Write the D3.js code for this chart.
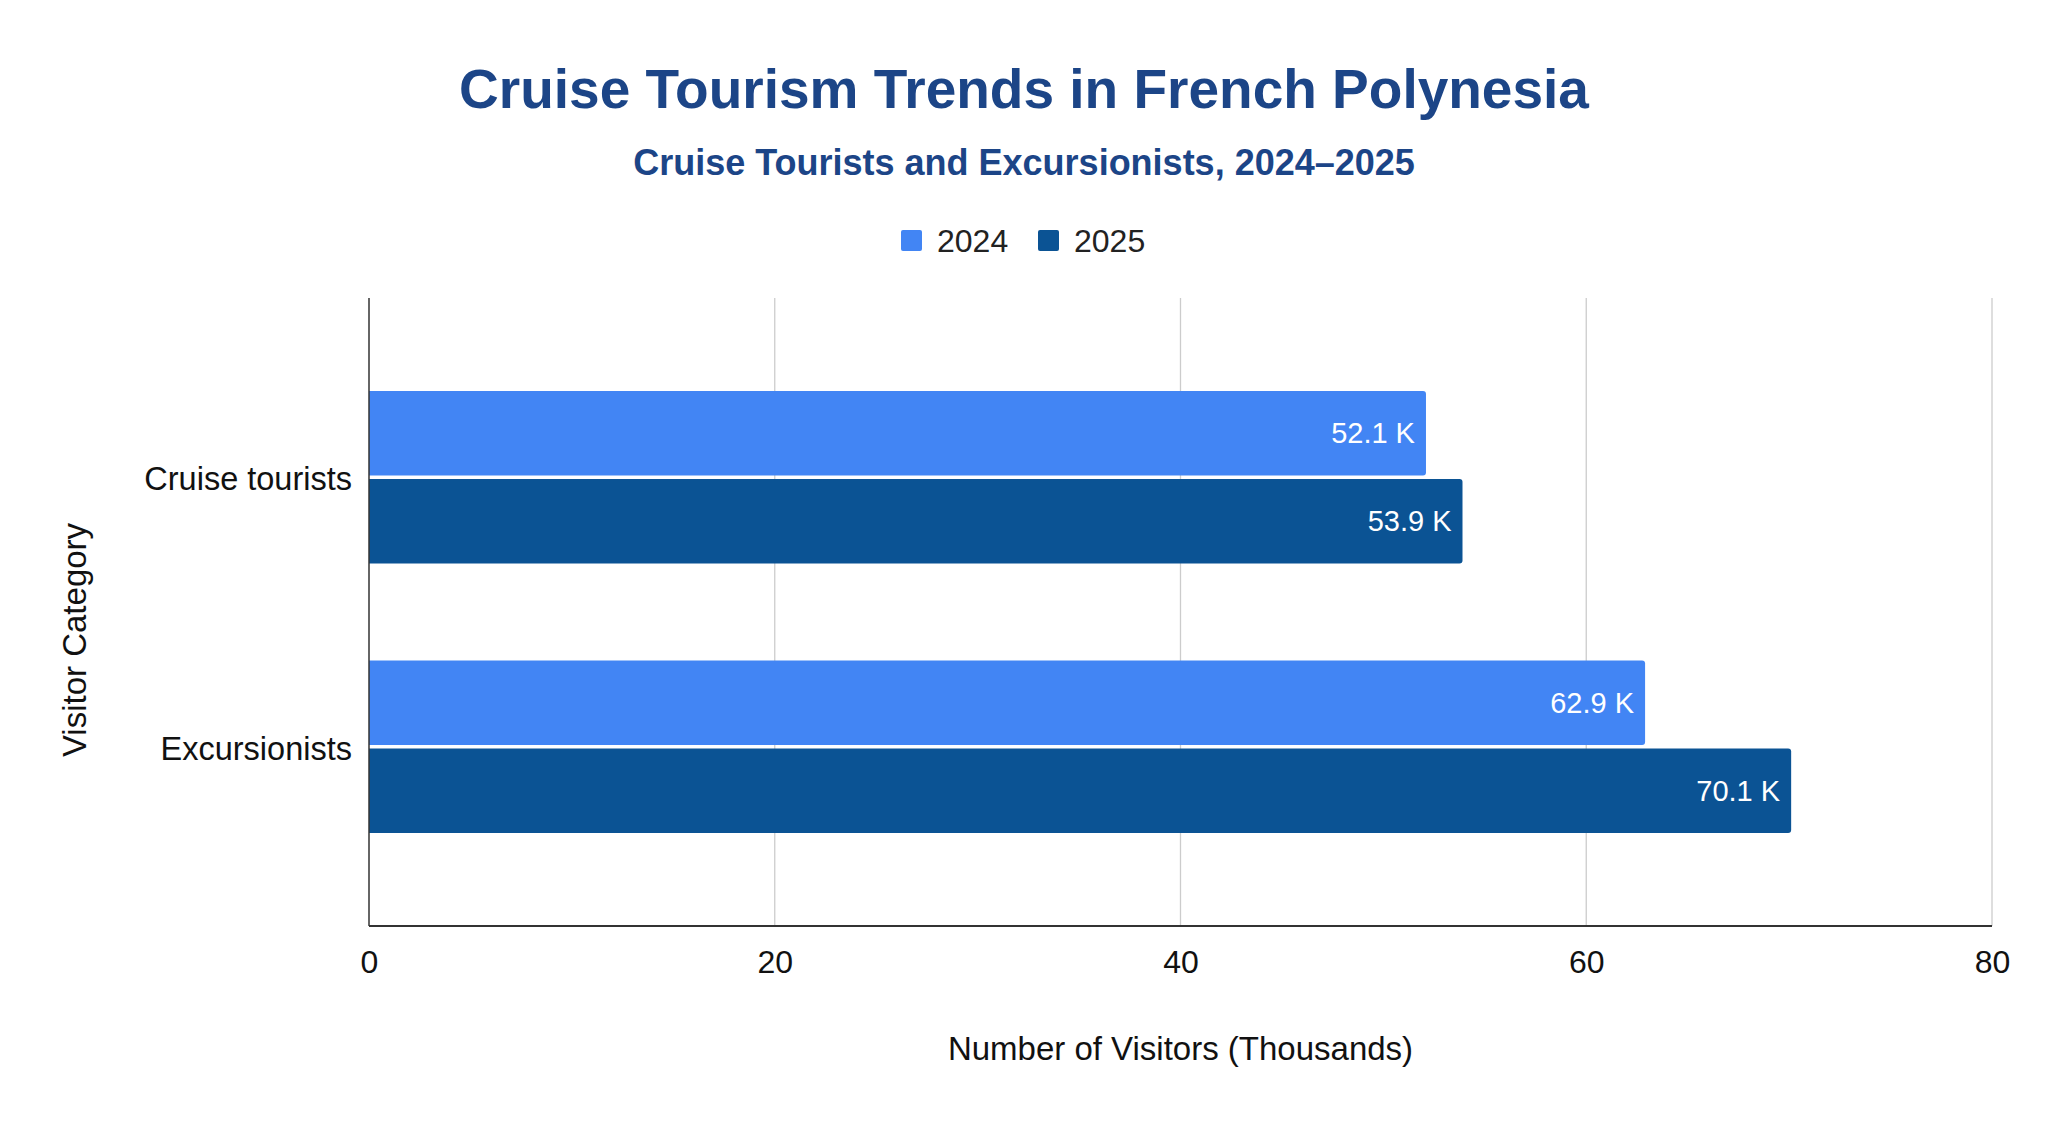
<!DOCTYPE html>
<html>
<head>
<meta charset="utf-8">
<script src="https://cdn.jsdelivr.net/npm/d3@7"></script>
<style>
  html, body { margin: 0; padding: 0; background: #fff; }
  svg { display: block; font-family: Arial, "Liberation Sans", sans-serif; }
</style>
</head>
<body>
<div id="chart"></div>
<script>
// Chart data
const categories = ["Cruise tourists", "Excursionists"];
const years = ["2024", "2025"];
const values2024 = [52.1, 62.9];
const values2025 = [53.9, 70.1];
const xTicks = [0, 20, 40, 60, 80];

const colors = {"2024": "#4285f4", "2025": "#0b5394"};

// Overall size and plot area
const W = 2048, H = 1124;
const margin = {top: 298, right: 56, bottom: 198, left: 369};
const width = W - margin.left - margin.right,
      height = H - margin.top - margin.bottom;

const svg = d3.select("#chart")
  .append("svg")
  .attr("width", W)
  .attr("height", H);

// Build rows for the grouped bars
const rows = categories.map(function (c, i) {
  return {category: c, values: [
    {year: "2024", value: values2024[i]},
    {year: "2025", value: values2025[i]}
  ]};
});

// Titles
svg.append("text")
  .attr("x", W / 2).attr("y", 108)
  .attr("text-anchor", "middle")
  .style("font-size", "55px").style("font-weight", "bold")
  .style("fill", "#1c4587")
  .text("Cruise Tourism Trends in French Polynesia");

svg.append("text")
  .attr("x", W / 2).attr("y", 175)
  .attr("text-anchor", "middle")
  .style("font-size", "36px").style("font-weight", "bold")
  .style("fill", "#1c4587")
  .text("Cruise Tourists and Excursionists, 2024\u20132025");

// Legend
const legendX = [901, 1038];
const legend = svg.selectAll(".legend").data(years)
  .enter().append("g")
  .attr("class", "legend")
  .attr("transform", function (d, i) { return "translate(" + legendX[i] + ",230)"; });
legend.append("rect")
  .attr("width", 21).attr("height", 21).attr("rx", 2)
  .attr("fill", d => colors[d]);
legend.append("text")
  .attr("x", 36).attr("y", 21.5)
  .style("font-size", "32px").style("fill", "#222")
  .text(d => d);

const g = svg.append("g")
  .attr("transform", "translate(" + margin.left + "," + margin.top + ")");

// Scales
const x = d3.scaleLinear().domain([0, 80]).range([0, width]);
const y0 = d3.scaleBand().domain(categories).range([0, height])
  .paddingInner(0.36).paddingOuter(0.345);
const y1 = d3.scaleBand().domain(years).range([0, y0.bandwidth()])
  .paddingInner(0.04);

// Gridlines
g.selectAll(".grid").data(xTicks.filter(t => t > 0))
  .enter().append("line")
  .attr("x1", d => x(d)).attr("x2", d => x(d))
  .attr("y1", 0).attr("y2", height)
  .attr("stroke", "#cccccc").attr("stroke-width", 1.3);

// Bars with rounded right corners
function barPath(w, h) {
  const r = Math.min(3, w);
  return "M0,0H" + (w - r) + "Q" + w + ",0 " + w + "," + r +
    "V" + (h - r) + "Q" + w + "," + h + " " + (w - r) + "," + h + "H0Z";
}

const groups = g.selectAll(".group").data(rows)
  .enter().append("g")
  .attr("transform", d => "translate(0," + y0(d.category) + ")");

groups.selectAll("path").data(d => d.values)
  .enter().append("path")
  .attr("transform", d => "translate(0," + y1(d.year) + ")")
  .attr("d", d => barPath(x(d.value), y1.bandwidth()))
  .attr("fill", d => colors[d.year]);

groups.selectAll(".val").data(d => d.values)
  .enter().append("text")
  .attr("x", d => x(d.value) - 11)
  .attr("y", d => y1(d.year) + y1.bandwidth() / 2)
  .attr("dy", "0.35em")
  .attr("text-anchor", "end")
  .style("font-size", "29px").style("fill", "#ffffff")
  .text(d => d.value.toFixed(1) + " K");

// Axes lines
g.append("line")
  .attr("x1", 0).attr("x2", 0).attr("y1", 0).attr("y2", height)
  .attr("stroke", "#333").attr("stroke-width", 1.5);
g.append("line")
  .attr("x1", 0).attr("x2", width).attr("y1", height).attr("y2", height)
  .attr("stroke", "#333").attr("stroke-width", 2);

// X axis tick labels
const xAxis = g.append("g")
  .attr("transform", "translate(0," + height + ")")
  .call(d3.axisBottom(x).tickValues(xTicks).tickSize(0).tickPadding(0).tickFormat(d3.format("d")));
xAxis.select(".domain").remove();
xAxis.selectAll("text")
  .attr("y", 47).attr("dy", null)
  .style("font-size", "32px").style("font-family", "Arial, 'Liberation Sans', sans-serif")
  .style("fill", "#111");

// Y axis category labels
const yAxis = g.append("g")
  .call(d3.axisLeft(y0).tickSize(0).tickPadding(17));
yAxis.select(".domain").remove();
yAxis.selectAll("text")
  .attr("dy", "0.4em")
  .style("font-size", "32.5px").style("font-family", "Arial, 'Liberation Sans', sans-serif")
  .style("fill", "#111");

// Axis titles
svg.append("text")
  .attr("x", margin.left + width / 2).attr("y", 1060)
  .attr("text-anchor", "middle")
  .style("font-size", "33px").style("fill", "#111")
  .text("Number of Visitors (Thousands)");

svg.append("text")
  .attr("transform", "translate(86,640) rotate(-90)")
  .attr("text-anchor", "middle")
  .style("font-size", "33px").style("fill", "#111")
  .text("Visitor Category");
</script>
</body>
</html>
